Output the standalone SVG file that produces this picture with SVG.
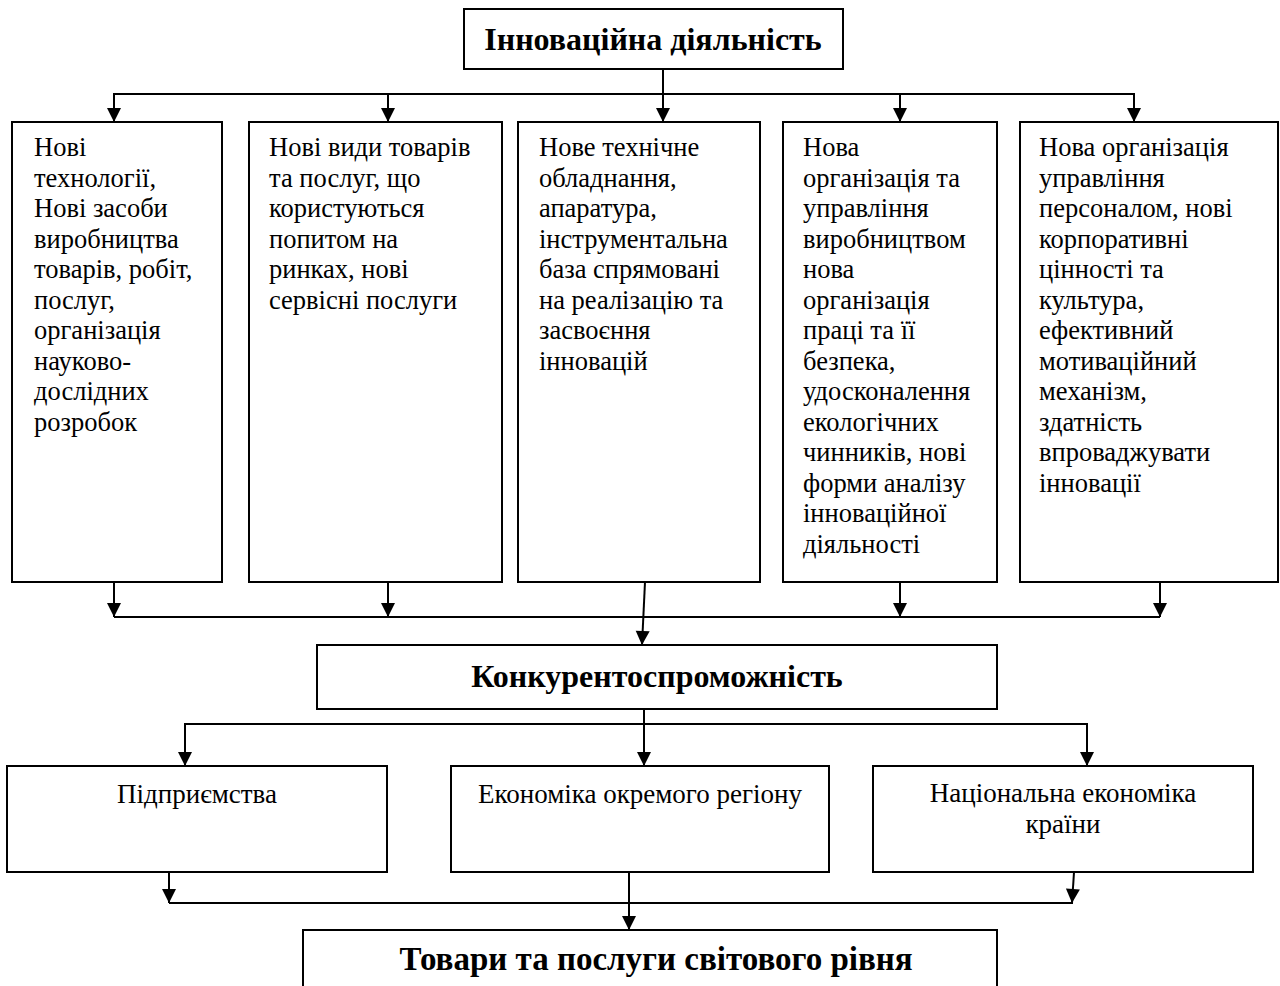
<svg xmlns="http://www.w3.org/2000/svg" width="1280" height="986" viewBox="0 0 1280 986">
<style>
.box{fill:#fff;stroke:#000;stroke-width:2}
.ln{fill:none;stroke:#000;stroke-width:2}
.t{font-family:"Liberation Serif","Times New Roman",serif;font-size:26.5px;fill:#000}
.c{font-family:"Liberation Serif","Times New Roman",serif;font-size:27px;fill:#000;text-anchor:middle}
.h{font-family:"Liberation Serif","Times New Roman",serif;font-size:32px;font-weight:bold;fill:#000;text-anchor:middle}
</style>
<defs>
<marker id="ar" markerUnits="userSpaceOnUse" markerWidth="16" markerHeight="16" viewBox="0 0 16 16" refX="15" refY="8" orient="auto">
<path d="M1,1 L15,8 L1,15 Z" fill="#000"/>
</marker>
</defs>
<rect width="1280" height="986" fill="#fff"/>
<g id="connectors">
<line class="ln" x1="114" y1="94" x2="1134" y2="94"/>
<line class="ln" x1="663" y1="69" x2="663" y2="122" marker-end="url(#ar)"/>
<line class="ln" x1="114" y1="93" x2="114" y2="122" marker-end="url(#ar)"/>
<line class="ln" x1="388" y1="94" x2="388" y2="122" marker-end="url(#ar)"/>
<line class="ln" x1="900" y1="94" x2="900" y2="122" marker-end="url(#ar)"/>
<line class="ln" x1="1134" y1="93" x2="1134" y2="122" marker-end="url(#ar)"/>
<line class="ln" x1="114" y1="617" x2="1160" y2="617"/>
<line class="ln" x1="114" y1="582" x2="114" y2="617" marker-end="url(#ar)"/>
<line class="ln" x1="388" y1="582" x2="388" y2="617" marker-end="url(#ar)"/>
<line class="ln" x1="900" y1="582" x2="900" y2="617" marker-end="url(#ar)"/>
<line class="ln" x1="1160" y1="582" x2="1160" y2="617" marker-end="url(#ar)"/>
<line class="ln" x1="645" y1="582" x2="642" y2="645" marker-end="url(#ar)"/>
<line class="ln" x1="185" y1="724" x2="1087" y2="724"/>
<line class="ln" x1="644" y1="709" x2="644" y2="766" marker-end="url(#ar)"/>
<line class="ln" x1="185" y1="723" x2="185" y2="766" marker-end="url(#ar)"/>
<line class="ln" x1="1087" y1="723" x2="1087" y2="766" marker-end="url(#ar)"/>
<line class="ln" x1="169" y1="903" x2="1073" y2="903"/>
<line class="ln" x1="169" y1="872" x2="169" y2="903" marker-end="url(#ar)"/>
<line class="ln" x1="1074" y1="872" x2="1072" y2="903" marker-end="url(#ar)"/>
<line class="ln" x1="629" y1="872" x2="629" y2="930" marker-end="url(#ar)"/>
</g>
<g id="n-top">
<rect class="box" x="464" y="9" width="379" height="60"/>
<text class="h" x="653" y="50">Інноваційна діяльність</text>
</g>
<g id="n1">
<rect class="box" x="12" y="122" width="210" height="460"/>
<text class="t" x="34" y="156"><tspan x="34">Нові</tspan><tspan x="34" dy="30.5">технології,</tspan><tspan x="34" dy="30.5">Нові засоби</tspan><tspan x="34" dy="30.5">виробництва</tspan><tspan x="34" dy="30.5">товарів, робіт,</tspan><tspan x="34" dy="30.5">послуг,</tspan><tspan x="34" dy="30.5">організація</tspan><tspan x="34" dy="30.5">науково-</tspan><tspan x="34" dy="30.5">дослідних</tspan><tspan x="34" dy="30.5">розробок</tspan></text>
</g>
<g id="n2">
<rect class="box" x="249" y="122" width="253" height="460"/>
<text class="t" x="269" y="156"><tspan x="269">Нові види товарів</tspan><tspan x="269" dy="30.5">та послуг, що</tspan><tspan x="269" dy="30.5">користуються</tspan><tspan x="269" dy="30.5">попитом на</tspan><tspan x="269" dy="30.5">ринках, нові</tspan><tspan x="269" dy="30.5">сервісні послуги</tspan></text>
</g>
<g id="n3">
<rect class="box" x="518" y="122" width="242" height="460"/>
<text class="t" x="539" y="156"><tspan x="539">Нове технічне</tspan><tspan x="539" dy="30.5">обладнання,</tspan><tspan x="539" dy="30.5">апаратура,</tspan><tspan x="539" dy="30.5">інструментальна</tspan><tspan x="539" dy="30.5">база спрямовані</tspan><tspan x="539" dy="30.5">на реалізацію та</tspan><tspan x="539" dy="30.5">засвоєння</tspan><tspan x="539" dy="30.5">інновацій</tspan></text>
</g>
<g id="n4">
<rect class="box" x="783" y="122" width="214" height="460"/>
<text class="t" x="803" y="156"><tspan x="803">Нова</tspan><tspan x="803" dy="30.5">організація та</tspan><tspan x="803" dy="30.5">управління</tspan><tspan x="803" dy="30.5">виробництвом</tspan><tspan x="803" dy="30.5">нова</tspan><tspan x="803" dy="30.5">організація</tspan><tspan x="803" dy="30.5">праці та її</tspan><tspan x="803" dy="30.5">безпека,</tspan><tspan x="803" dy="30.5">удосконалення</tspan><tspan x="803" dy="30.5">екологічних</tspan><tspan x="803" dy="30.5">чинників, нові</tspan><tspan x="803" dy="30.5">форми аналізу</tspan><tspan x="803" dy="30.5">інноваційної</tspan><tspan x="803" dy="30.5">діяльності</tspan></text>
</g>
<g id="n5">
<rect class="box" x="1020" y="122" width="258" height="460"/>
<text class="t" x="1039" y="156"><tspan x="1039">Нова організація</tspan><tspan x="1039" dy="30.5">управління</tspan><tspan x="1039" dy="30.5">персоналом, нові</tspan><tspan x="1039" dy="30.5">корпоративні</tspan><tspan x="1039" dy="30.5">цінності та</tspan><tspan x="1039" dy="30.5">культура,</tspan><tspan x="1039" dy="30.5">ефективний</tspan><tspan x="1039" dy="30.5">мотиваційний</tspan><tspan x="1039" dy="30.5">механізм,</tspan><tspan x="1039" dy="30.5">здатність</tspan><tspan x="1039" dy="30.5">впроваджувати</tspan><tspan x="1039" dy="30.5">інновації</tspan></text>
</g>
<g id="n-konk">
<rect class="box" x="317" y="645" width="680" height="64"/>
<text class="h" x="657" y="687">Конкурентоспроможність</text>
</g>
<g id="n-a">
<rect class="box" x="7" y="766" width="380" height="106"/>
<text class="c" x="197" y="803">Підприємства</text>
</g>
<g id="n-b">
<rect class="box" x="451" y="766" width="378" height="106"/>
<text class="c" x="640" y="803">Економіка окремого регіону</text>
</g>
<g id="n-c">
<rect class="box" x="873" y="766" width="380" height="106"/>
<text class="c" x="1063" y="802">Національна економіка</text>
<text class="c" x="1063" y="833">країни</text>
</g>
<g id="n-bottom">
<rect class="box" x="303" y="930" width="694" height="70"/>
<text class="h" x="656" y="970" style="font-size:33px">Товари та послуги світового рівня</text>
</g>
</svg>
